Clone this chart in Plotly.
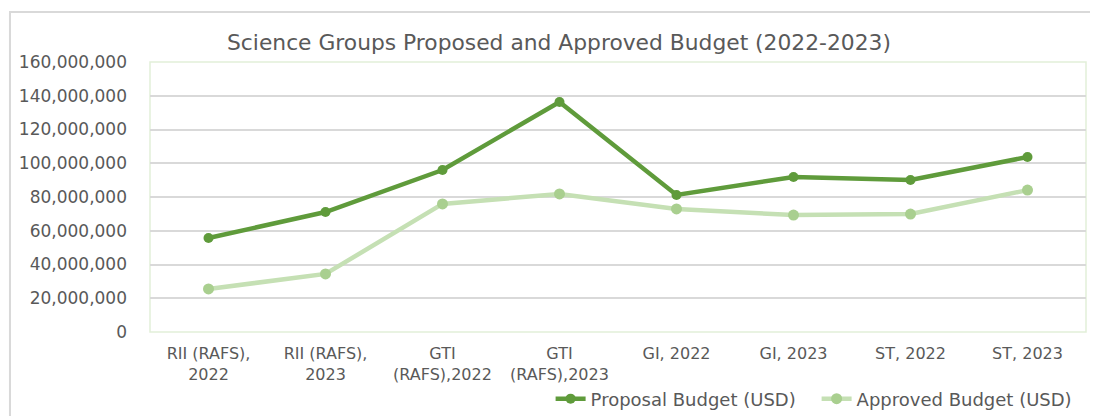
import plotly.graph_objects as go

categories = ["RII (RAFS),<br>2022", "RII (RAFS),<br>2023", "GTI<br>(RAFS),2022", "GTI<br>(RAFS),2023",
              "GI, 2022", "GI, 2023", "ST, 2022", "ST, 2023"]
proposal = [55700000, 71100000, 96000000, 136300000, 81200000, 91900000, 90100000, 103700000]
approved = [25500000, 34400000, 75900000, 81800000, 72900000, 69300000, 69900000, 84100000]
y_ticks = [0, 20000000, 40000000, 60000000, 80000000, 100000000, 120000000, 140000000, 160000000]

FONT = "DejaVu Sans"
GREY = "#595959"

fig = go.Figure()
fig.add_trace(go.Scatter(x=list(range(len(categories))), y=proposal, mode="lines+markers",
                         name="Proposal Budget (USD)",
                         line=dict(color="#5F9B3B", width=4.5),
                         marker=dict(color="#5F9B3B", size=10)))
fig.add_trace(go.Scatter(x=list(range(len(categories))), y=approved, mode="lines+markers",
                         name="Approved Budget (USD)",
                         line=dict(color="#C5E0B4", width=4.5),
                         marker=dict(color="#A9CF8F", size=11)))

# page has an 8px body margin, so the figure is 8px smaller than the window
fig.update_layout(
    width=1090, height=408,
    margin=dict(l=142, r=12, t=54, b=84, autoexpand=False),
    paper_bgcolor="white", plot_bgcolor="white",
    font=dict(family=FONT, size=16, color=GREY),
    title=dict(text="Science Groups Proposed and Approved Budget (2022-2023)",
               x=0.5055, xanchor="center", y=0.9167, yanchor="middle",
               font=dict(family=FONT, size=21.8, color=GREY)),
    showlegend=True,
    legend=dict(orientation="h", x=0.428, xanchor="left", y=-0.248, yanchor="middle",
                font=dict(family=FONT, size=18, color=GREY),
                entrywidth=221, entrywidthmode="pixels",
                bgcolor="rgba(0,0,0,0)", traceorder="normal"),
    xaxis=dict(tickmode="array", tickvals=list(range(len(categories))), ticktext=categories,
               range=[-0.5, len(categories) - 0.5], showgrid=False, zeroline=False,
               showline=False, ticks="", tickfont=dict(size=16), ticklabelstandoff=10,
               automargin=False),
    yaxis=dict(range=[0, 160000000], tickvals=y_ticks, tickformat=",d",
               showgrid=True, gridcolor="#D9D9D9", gridwidth=1.5, zeroline=False,
               showline=False, ticks="", ticklabelstandoff=22, tickfont=dict(size=17),
               automargin=False),
    shapes=[
        dict(type="rect", xref="paper", yref="paper", x0=0, x1=1, y0=0, y1=1,
             line=dict(color="#E2F0D9", width=1.5), layer="below"),
        dict(type="rect", xref="paper", yref="paper", x0=-0.1496, x1=1.05, y0=-0.5, y1=1.185,
             line=dict(color="#D9D9D9", width=2), layer="below"),
    ],
)

fig.write_html("out.html")
